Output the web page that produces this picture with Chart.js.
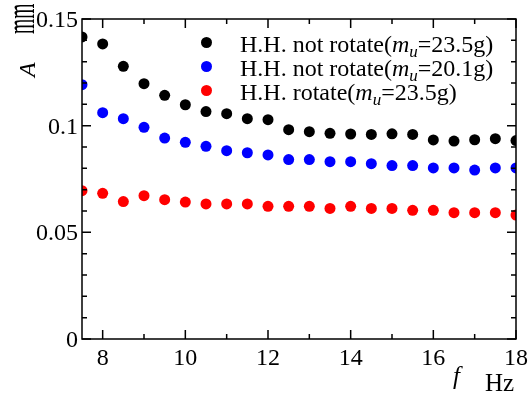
<!DOCTYPE html>
<html>
<head>
<meta charset="utf-8">
<script src="https://cdn.jsdelivr.net/npm/chart.js@4.4.1/dist/chart.umd.min.js"></script>
<style>
  html, body { margin: 0; padding: 0; background: #fff; }
  #wrap { position: relative; width: 530px; height: 401px; font-family: "Liberation Serif", "Times New Roman", serif; color: #000; }
  canvas { position: absolute; left: 0; top: 0; }
  .lg { position: absolute; left: 0; top: 0; font-size: 24px; line-height: 24px; white-space: nowrap; }
  .row { position: absolute; left: 0; height: 24px; }
  .dot { position: absolute; width: 11px; height: 11px; border-radius: 50%; left: 201px; }
  .txt { position: absolute; left: 240px; top: 1px; }
  sub { font-size: 17px; vertical-align: -5px; line-height: 0; }
  .rot { position: absolute; font-size: 24px; line-height: 24px; white-space: nowrap; transform-origin: 0 0; }
  .xt { position: absolute; font-size: 25px; white-space: nowrap; }
</style>
</head>
<body>
<div id="wrap">
  <canvas id="c" width="530" height="401"></canvas>
  <div class="rot" style="left:15px; top:77px; transform: rotate(-90deg);"><i>A</i></div>
  <div class="rot" style="left:4px; top:34px; font-size:26px; transform: rotate(-90deg) scale(0.75, 1.5);">mm</div>
  <div class="xt" style="left:453px; top:362px;"><i>f</i></div>
  <div class="xt" style="left:485px; top:369px;">Hz</div>
  <div class="lg" id="legend"></div>
</div>
<script>
// ---- data ----
const freqs = [7.5, 8, 8.5, 9, 9.5, 10, 10.5, 11, 11.5, 12, 12.5, 13, 13.5, 14, 14.5, 15, 15.5, 16, 16.5, 17, 17.5, 18];
const notRotate235 = [0.1416, 0.1383, 0.1278, 0.1197, 0.1142, 0.1098, 0.1066, 0.1056, 0.1033, 0.1028, 0.0981, 0.0972, 0.0964, 0.0961, 0.0959, 0.0962, 0.0959, 0.0933, 0.0928, 0.0934, 0.0939, 0.0930];
const notRotate201 = [0.1192, 0.1061, 0.1033, 0.0992, 0.0942, 0.0922, 0.0903, 0.0883, 0.0873, 0.0863, 0.0841, 0.0841, 0.0831, 0.0831, 0.0822, 0.0813, 0.0813, 0.0802, 0.0802, 0.0792, 0.0802, 0.0802];
const rotate235 = [0.0695, 0.0683, 0.0644, 0.0672, 0.0653, 0.0642, 0.0633, 0.0633, 0.0633, 0.0622, 0.0622, 0.0622, 0.0612, 0.0622, 0.0612, 0.0612, 0.0603, 0.0603, 0.0592, 0.0592, 0.0592, 0.0581];
const seriesNames = ["H.H. not rotate(<i>m</i><sub><i>u</i></sub>=23.5g)", "H.H. not rotate(<i>m</i><sub><i>u</i></sub>=20.1g)", "H.H. rotate(<i>m</i><sub><i>u</i></sub>=23.5g)"];
const seriesColors = ["#000000", "#0000ff", "#ff0000"];
const xTicks = [8, 10, 12, 14, 16, 18];
const xTickLabels = ["8", "10", "12", "14", "16", "18"];
const xMinorTicks = [9, 11, 13, 15, 17];
const yTicks = [0, 0.05, 0.1, 0.15];
const yTickLabels = ["0", "0.05", "0.1", "0.15"];
const yMinorTicks = [0.01, 0.02, 0.03, 0.04, 0.06, 0.07, 0.08, 0.09, 0.11, 0.12, 0.13, 0.14];

const toPts = arr => freqs.map((f, i) => ({ x: f, y: arr[i] }));
const allSeries = [notRotate235, notRotate201, rotate235];

// legend (HTML text)
const lg = document.getElementById('legend');
seriesNames.forEach((n, i) => {
  const top = 31 + i * 24;
  lg.insertAdjacentHTML('beforeend',
    `<div class="row" style="top:${top}px"><span class="dot" style="top:6px;background:${seriesColors[i]}"></span><span class="txt">${n}</span></div>`);
});

const LABEL_FONT = "24px 'Liberation Serif', 'Times New Roman', serif";

const frameTicks = {
  id: 'frameTicks',
  afterDatasetsDraw(chart) {
    const { ctx, chartArea: a, scales: { x, y } } = chart;
    ctx.save();
    ctx.strokeStyle = '#000';
    ctx.lineWidth = 1.5;
    ctx.beginPath();
    ctx.rect(a.left, a.top, a.right - a.left, a.bottom - a.top);
    ctx.stroke();
    const MAJ = 9, MIN = 5;
    ctx.beginPath();
    xTicks.forEach(v => { const p = x.getPixelForValue(v);
      ctx.moveTo(p, a.bottom); ctx.lineTo(p, a.bottom - MAJ);
      ctx.moveTo(p, a.top); ctx.lineTo(p, a.top + MAJ); });
    xMinorTicks.forEach(v => { const p = x.getPixelForValue(v);
      ctx.moveTo(p, a.bottom); ctx.lineTo(p, a.bottom - MIN);
      ctx.moveTo(p, a.top); ctx.lineTo(p, a.top + MIN); });
    yTicks.forEach(v => { const p = y.getPixelForValue(v);
      ctx.moveTo(a.left, p); ctx.lineTo(a.left + MAJ, p);
      ctx.moveTo(a.right, p); ctx.lineTo(a.right - MAJ, p); });
    yMinorTicks.forEach(v => { const p = y.getPixelForValue(v);
      ctx.moveTo(a.left, p); ctx.lineTo(a.left + MIN, p);
      ctx.moveTo(a.right, p); ctx.lineTo(a.right - MIN, p); });
    ctx.stroke();
    // tick labels
    ctx.fillStyle = '#000';
    ctx.font = LABEL_FONT;
    ctx.textAlign = 'center';
    ctx.textBaseline = 'alphabetic';
    xTicks.forEach((v, i) => {
      ctx.fillText(xTickLabels[i], x.getPixelForValue(v), a.bottom + 26);
    });
    ctx.textAlign = 'right';
    yTicks.forEach((v, i) => {
      ctx.fillText(yTickLabels[i], a.left - 4, y.getPixelForValue(v) + 8);
    });
    ctx.restore();
  }
};

function build() {
  new Chart(document.getElementById('c'), {
    type: 'scatter',
    data: {
      datasets: allSeries.map((s, i) => ({
        label: 'series' + i,
        data: toPts(s),
        backgroundColor: seriesColors[i],
        borderColor: seriesColors[i],
        pointRadius: 5.5,
        pointBorderWidth: 0,
        showLine: false
      }))
    },
    options: {
      responsive: false,
      animation: false,
      events: [],
      layout: { padding: { left: 0, top: 19, right: 14, bottom: 0 } },
      plugins: { legend: { display: false }, tooltip: { enabled: false } },
      scales: {
        x: {
          type: 'linear', min: 7.5, max: 18,
          afterBuildTicks: s => { s.ticks = xTicks.map(v => ({ value: v })); },
          afterFit: s => { s.height = 62; },
          grid: { display: false, drawTicks: false },
          border: { display: false },
          ticks: { display: false }
        },
        y: {
          type: 'linear', min: 0, max: 0.15,
          afterBuildTicks: s => { s.ticks = yTicks.map(v => ({ value: v })); },
          afterFit: s => { s.width = 82; },
          grid: { display: false, drawTicks: false },
          border: { display: false },
          ticks: { display: false }
        }
      }
    },
    plugins: [frameTicks]
  });
}

if (document.fonts && document.fonts.load) {
  Promise.all([
    document.fonts.load("24px 'Liberation Serif'"),
    document.fonts.load("italic 24px 'Liberation Serif'")
  ]).then(build, build);
} else {
  build();
}
</script>
</body>
</html>
